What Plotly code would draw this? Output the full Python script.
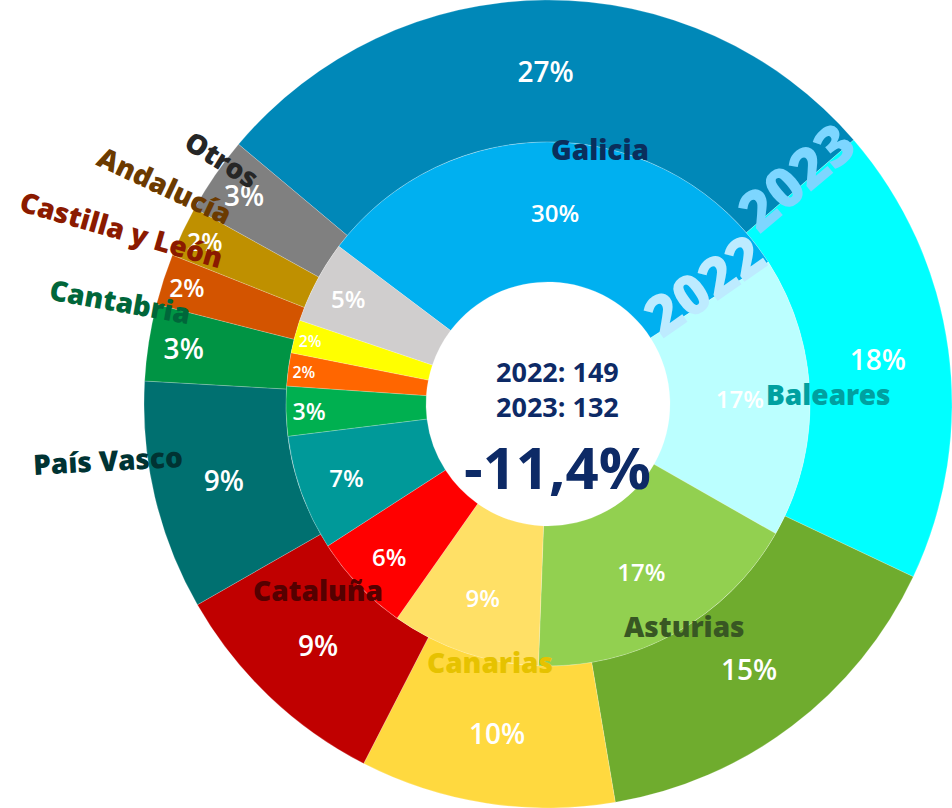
import plotly.graph_objects as go

# ---------- Data ----------

regions = ["Galicia", "Baleares", "Asturias", "Canarias", "Cataluña",
           "País Vasco", "Cantabria", "Castilla y León", "Andalucía", "Otros"]

pct_2022 = [30, 17, 17, 9, 6, 7, 3, 2, 2, 5]
pct_2023 = [27, 18, 15, 10, 9, 9, 3, 2, 2, 3]

total_2022 = 149
total_2023 = 132
change_label = "-11,4%"

colors_2022 = ["#00B0F0", "#BBFFFF", "#92D050", "#FFE066", "#FF0000",
               "#009999", "#00B050", "#FF6600", "#FFFF00", "#D0CECE"]
colors_2023 = ["#0088B8", "#00FFFF", "#6FAC2E", "#FFD93F", "#C00000",
               "#007070", "#009444", "#D35400", "#BF9000", "#808080"]

label_colors = ["#0A2E5C", "#00A0A0", "#385723", "#E6C200", "#550000",
                "#003333", "#00663A", "#8B1A00", "#6B3A00", "#262626"]

# ---------- Layout helpers ----------

W, H = 952, 808
CX, CY = 548, 404
R_OUT, R_MID, R_IN = 404, 262, 122


def px(x):
    return x / W


def py(y):
    return 1 - y / H


def dom(r):
    return dict(x=[px(CX - r), px(CX + r)], y=[py(CY + r), py(CY - r)])


FONT = "Open Sans"
HEAVY = "Noto Sans"

fig = go.Figure()

# 2023 outer ring
fig.add_trace(go.Pie(
    labels=regions, values=pct_2023,
    text=[f"{v}%" for v in pct_2023],
    textinfo="text", textposition="inside",
    insidetextorientation="horizontal",
    textfont=dict(family=FONT, size=28, color="white", weight=600),
    marker=dict(colors=colors_2023, line=dict(color="rgba(255,255,255,0.4)", width=0.5)),
    hole=R_MID / R_OUT, sort=False, direction="clockwise", rotation=-50,
    domain=dom(R_OUT), showlegend=False, name="2023",
))

# 2022 inner ring
fig.add_trace(go.Pie(
    labels=regions, values=pct_2022,
    text=[f"{v}%" for v in pct_2022],
    textinfo="text", textposition="inside",
    insidetextorientation="horizontal",
    textfont=dict(family=FONT, size=24, color="white", weight=600),
    marker=dict(colors=colors_2022, line=dict(color="rgba(255,255,255,0.4)", width=0.5)),
    hole=R_IN / R_MID, sort=False, direction="clockwise", rotation=-53,
    domain=dom(R_MID), showlegend=False, name="2022",
))


def note(x, y, text, size, color, angle=0, weight=900, family=HEAVY):
    return dict(x=px(x), y=py(y), xref="paper", yref="paper", text=text,
                showarrow=False, textangle=angle, xanchor="center", yanchor="middle",
                font=dict(family=family, size=size, color=color, weight=weight))


# region name labels (x, y, angle)
label_pos = [
    (600, 149, 0), (828, 394, 0), (684, 626, 0), (490, 662, 0), (318, 590, 0),
    (108, 460, -3), (120, 301, 10), (122, 229, 16), (165, 185, 25), (222, 159, 32),
]
annotations = [note(x, y, name, 28, col, a)
               for name, col, (x, y, a) in zip(regions, label_colors, label_pos)]

# year labels on the ring seam
annotations.append(note(703, 284, "2022", 56, "#BDEBFF", -35))
annotations.append(note(795, 176, "2023", 56, "#7DD6FF", -40))

# centre text
annotations.append(note(557, 371, f"2022: {total_2022}", 27, "#0D2A66", weight=700, family=FONT))
annotations.append(note(557, 406, f"2023: {total_2023}", 27, "#0D2A66", weight=700, family=FONT))
annotations.append(note(557, 467, change_label, 58, "#0D2A66", weight=700, family=FONT))

fig.update_layout(
    width=W, height=H,
    margin=dict(l=0, r=0, t=0, b=0),
    paper_bgcolor="white", plot_bgcolor="white",
    annotations=annotations,
)

fig.write_html("out.html", config={"displayModeBar": False},
               post_script="document.body.style.margin='0';")
